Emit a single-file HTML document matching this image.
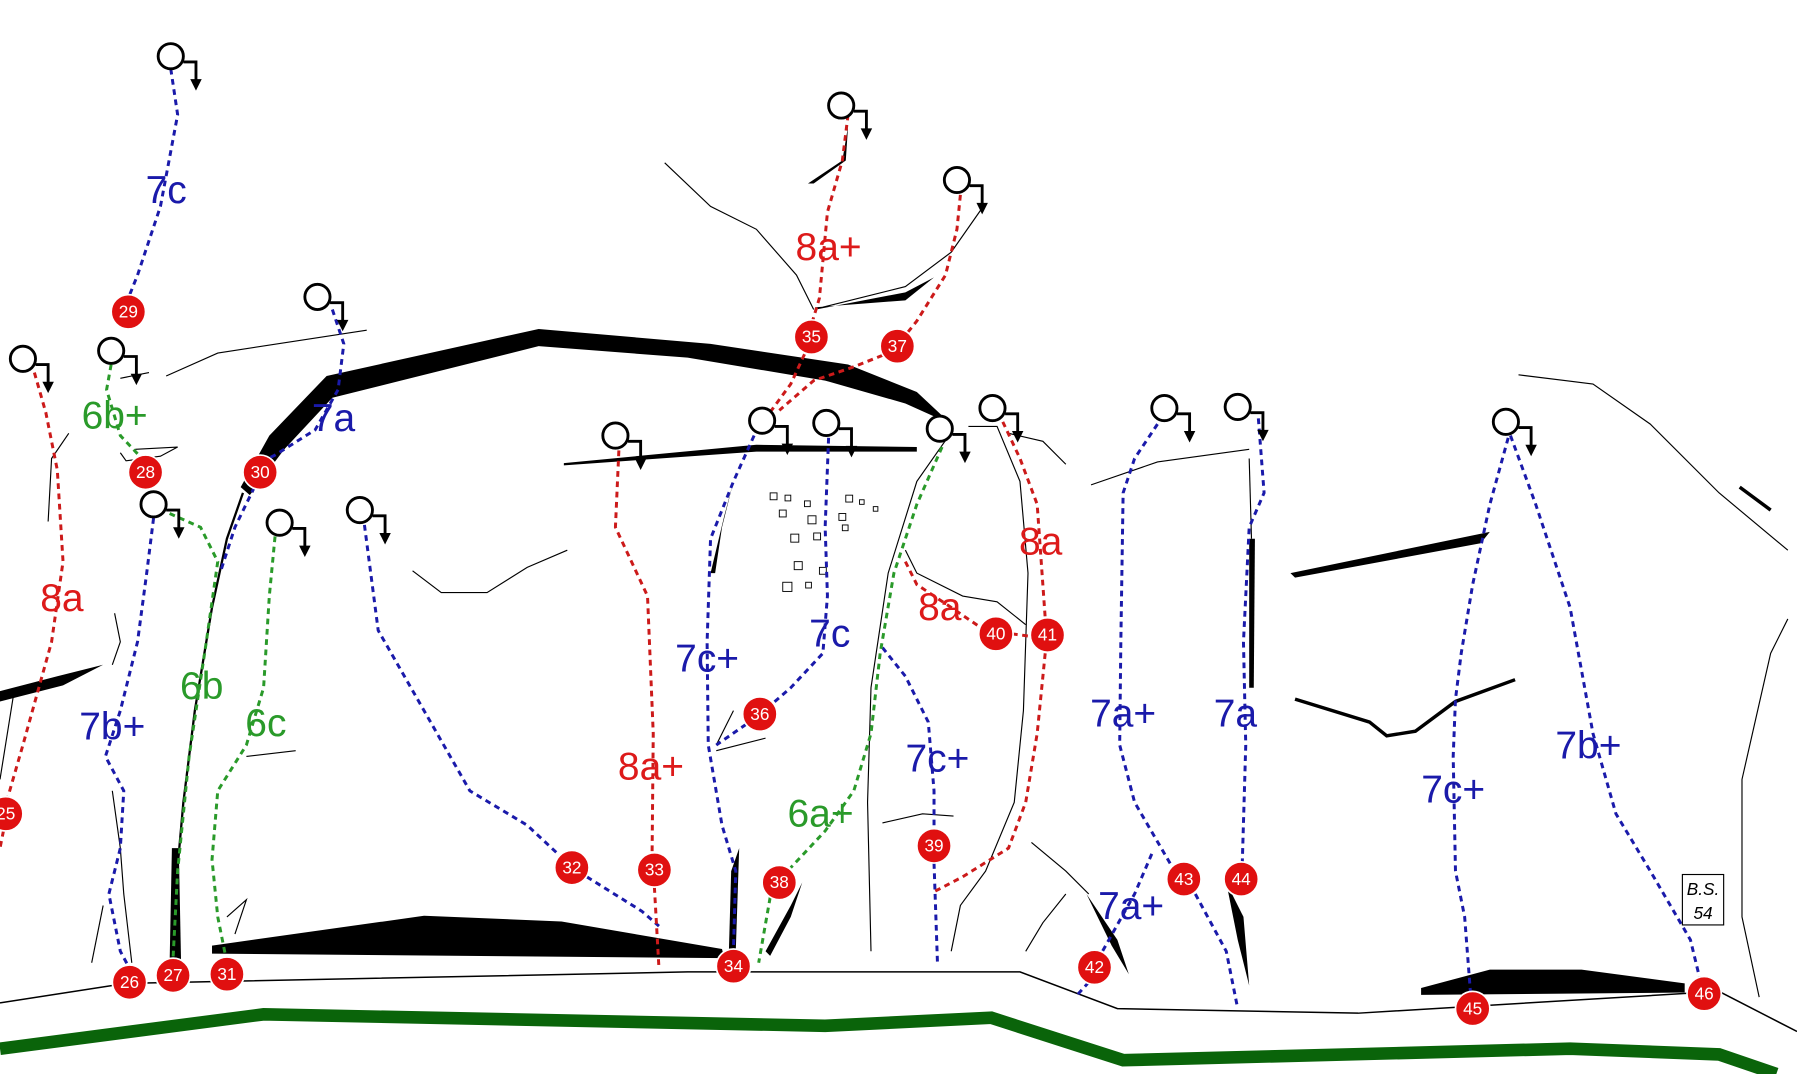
<!DOCTYPE html>
<html><head><meta charset="utf-8"><style>
html,body{margin:0;padding:0;background:#fff;}
svg{display:block;}
text{font-family:"Liberation Sans",sans-serif;}
</style></head><body>
<svg width="1797" height="1074" viewBox="0 0 1568 937" xmlns="http://www.w3.org/2000/svg">
<defs>
<g id="anc"><circle cx="0" cy="0" r="11" fill="#fff" stroke="#000" stroke-width="2.5"/><polyline points="11,5 22,5 22,22" fill="none" stroke="#000" stroke-width="2.5"/><polygon points="17,20 27,20 22,30" fill="#000"/></g>
</defs>
<rect width="1568" height="937" fill="#fff"/>
<!-- ground -->
<polyline points="0,875 110,858 600,848 890,848 975,880 1185,884 1500,865 1568,900" fill="none" stroke="#000" stroke-width="1.3"/>
<polyline points="0,915 230,885 720,895 865,888 980,925 1370,915 1500,920 1550,937" fill="none" stroke="#0a640a" stroke-width="11"/>
<!-- black shapes -->
<polygon points="210,425 235,380 285,328 470,287 620,300 740,318 800,342 830,370 790,352 720,332 600,312 470,302 290,347 248,392 218,432" fill="#000"/>
<polyline points="212,430 198,470 185,530 170,620 160,700 152,790 150,840" fill="none" stroke="#000" stroke-width="2"/>
<polygon points="150,740 156,740 158,840 148,840" fill="#000"/>
<polygon points="185,825 370,799 490,804 630,828 632,836 185,832" fill="#000"/>
<polygon points="0,603 50,590 90,580 55,598 0,612" fill="#000"/>
<polygon points="1126,500 1300,464 1292,474 1130,504" fill="#000"/>
<polygon points="1240,862 1300,846 1380,846 1470,858 1470,866 1240,868" fill="#000"/>
<polygon points="492,404 660,388 800,390 800,394 660,394 492,406" fill="#000"/>
<polygon points="712,270 790,255 815,242 790,262 712,268" fill="#000"/>
<polygon points="705,160 735,140 740,110 738,140 710,160" fill="#000"/>
<polygon points="638,760 645,740 642,830 636,830" fill="#000"/>
<polygon points="668,830 690,790 700,770 690,800 672,834" fill="#000"/>
<polygon points="620,500 632,450 640,420 630,460 624,500" fill="#000"/>
<polygon points="1090,470 1095,470 1094,600 1090,600" fill="#000"/>
<polygon points="1070,770 1085,800 1090,860 1080,820" fill="#000"/>
<polygon points="948,780 975,820 985,850 970,825" fill="#000"/>
<polyline points="1130,610 1195,630 1210,642 1235,638 1270,612 1322,593" fill="none" stroke="#000" stroke-width="3"/>
<line x1="1518" y1="425" x2="1545" y2="445" stroke="#000" stroke-width="3"/>
<!-- thin lines -->
<g fill="none" stroke="#000" stroke-width="1">
<polyline points="580,142 620,180 660,200 695,240 710,270"/>
<polyline points="718,268 790,250 830,220 858,180"/>
<polyline points="145,328 190,308 320,288"/>
<polyline points="105,330 130,325"/>
<polyline points="60,378 45,400 42,455"/>
<polyline points="100,535 105,560 98,580"/>
<polyline points="12,605 0,680"/>
<polyline points="105,395 110,402 140,398 155,390 118,392"/>
<polyline points="360,498 385,517 425,517 460,495 495,480"/>
<polyline points="98,690 105,740 108,780 115,840"/>
<polyline points="90,790 80,840"/>
<polyline points="215,660 258,655"/>
<polyline points="198,800 215,785 205,815"/>
<polyline points="625,655 668,644"/>
<polyline points="770,718 805,710 832,712"/>
<polyline points="828,380 800,420 775,500 760,600 757,700 760,830"/>
<polyline points="845,372 870,372 890,420 897,500 893,620 885,700 860,760 838,790 830,830"/>
<polyline points="880,378 910,385 930,405"/>
<polyline points="790,480 800,500 840,520 870,525 895,545"/>
<polyline points="900,735 930,760 950,780"/>
<polyline points="930,780 910,805 895,830"/>
<polyline points="952,423 1010,403 1090,392"/>
<polyline points="1325,327 1390,335 1440,370 1500,430 1560,480"/>
<polyline points="1560,540 1545,570 1520,680 1520,800 1535,870"/>
<polyline points="1090,400 1092,470"/>
<polyline points="625,650 640,620"/>
</g>
<!-- rocks -->
<g fill="none" stroke="#000" stroke-width="0.8">
<rect x="672" y="430" width="6" height="6"/><rect x="685" y="432" width="5" height="5"/><rect x="702" y="437" width="5" height="5"/><rect x="738" y="432" width="6" height="6"/><rect x="750" y="436" width="4" height="4"/><rect x="680" y="445" width="6" height="6"/><rect x="705" y="450" width="7" height="7"/><rect x="732" y="448" width="6" height="6"/><rect x="762" y="442" width="4" height="4"/><rect x="690" y="466" width="7" height="7"/><rect x="710" y="465" width="6" height="6"/><rect x="735" y="458" width="5" height="5"/><rect x="693" y="490" width="7" height="7"/><rect x="715" y="495" width="6" height="6"/><rect x="683" y="508" width="8" height="8"/><rect x="703" y="508" width="5" height="5"/>
</g>
<!-- routes -->
<g fill="none" stroke-width="2.6" stroke-dasharray="5,4">
<g stroke="#1a1aaa">
<polyline points="149,60 155,100 140,180 120,240 112,260"/>
<polyline points="290,270 300,300 295,340 275,375 240,397 230,402"/>
<polyline points="222,425 205,460 192,500"/>
<polyline points="134,452 128,500 120,560 105,620 92,660 108,690 105,740 95,780 105,830 112,843"/>
<polyline points="318,458 330,550 370,620 410,690 460,720 490,748"/>
<polyline points="512,765 560,795 575,808"/>
<polyline points="658,380 640,420 620,470 617,560 618,650 630,720 642,760 640,828"/>
<polyline points="723,382 720,460 722,520 718,570 690,600 675,613"/>
<polyline points="651,632 625,650"/>
<polyline points="770,565 790,590 810,630 815,690 815,723"/>
<polyline points="815,753 818,840"/>
<polyline points="1010,370 990,400 980,430 978,560 977,650 990,700 1022,755"/>
<polyline points="1043,780 1070,830 1080,880"/>
<polyline points="1005,745 990,780 962,830"/>
<polyline points="950,857 940,868"/>
<polyline points="1098,365 1103,430 1090,460 1085,560 1087,650 1084,752"/>
<polyline points="1316,382 1300,440 1285,510 1275,570 1270,610 1268,660 1270,760 1278,800 1283,865"/>
<polyline points="1318,380 1340,440 1370,530 1390,640 1410,710 1440,760 1475,820 1483,853"/>
</g>
<g stroke="#cc1a1a">
<polyline points="30,325 40,360 50,410 55,490 45,560 20,650 7,695"/>
<polyline points="3,725 0,740"/>
<polyline points="540,393 537,460 565,520 570,640 569,744"/>
<polyline points="571,774 575,845"/>
<polyline points="740,100 735,140 722,185 715,260 709,280"/>
<polyline points="702,309 690,335 668,365"/>
<polyline points="838,170 835,200 825,240 800,280 792,290"/>
<polyline points="770,310 745,320 710,332 680,358"/>
<polyline points="790,490 800,510 830,530 855,547"/>
<polyline points="875,368 890,400 905,440 912,539"/>
<polyline points="912,570 905,640 895,700 880,740 840,765 815,778"/>
<polyline points="883,553 898,555"/>
</g>
<g stroke="#2a9a2a">
<polyline points="97,318 93,340 105,380 122,398"/>
<polyline points="148,448 175,460 190,490 180,560 165,660 155,760 151,836"/>
<polyline points="240,468 235,520 230,600 215,650 190,690 185,750 190,800 197,835"/>
<polyline points="822,390 800,440 780,500 768,570 760,640 745,690 720,725 690,757"/>
<polyline points="672,783 662,840"/>
</g>
</g>
<!-- anchors -->
<use href="#anc" x="149" y="49"/><use href="#anc" x="734" y="92"/><use href="#anc" x="835" y="157"/><use href="#anc" x="277" y="259"/><use href="#anc" x="97" y="306"/><use href="#anc" x="20" y="313"/><use href="#anc" x="537" y="380"/><use href="#anc" x="665" y="367"/><use href="#anc" x="721" y="369"/><use href="#anc" x="820" y="374"/><use href="#anc" x="866" y="356"/><use href="#anc" x="1016" y="356"/><use href="#anc" x="1080" y="355"/><use href="#anc" x="1314" y="368"/><use href="#anc" x="134" y="440"/><use href="#anc" x="244" y="456"/><use href="#anc" x="314" y="445"/>
<!-- grades -->
<g font-size="34" text-anchor="middle">
<g fill="#1a1aaa">
<text x="145" y="177">7c</text><text x="291" y="376">7a</text><text x="98" y="645">7b+</text><text x="617" y="586">7c+</text><text x="724" y="564">7c</text><text x="818" y="673">7c+</text><text x="980" y="634">7a+</text><text x="1078" y="634">7a</text><text x="987" y="802">7a+</text><text x="1268" y="700">7c+</text><text x="1386" y="662">7b+</text>
</g>
<g fill="#dd1a1a">
<text x="54" y="533">8a</text><text x="723" y="227">8a+</text><text x="568" y="680">8a+</text><text x="820" y="541">8a</text><text x="908" y="484">8a</text>
</g>
<g fill="#2a9a2a">
<text x="100" y="374">6b+</text><text x="176" y="610">6b</text><text x="232" y="642">6c</text><text x="716" y="721">6a+</text>
</g>
</g>
<!-- numbered circles -->
<g font-size="15" fill="#fff" text-anchor="middle">
<g fill="#e01010" stroke="#fff" stroke-width="1.5">
<circle cx="112" cy="272" r="15"/><circle cx="127" cy="412" r="15"/><circle cx="227" cy="412" r="15"/><circle cx="708" cy="294" r="15"/><circle cx="783" cy="302" r="15"/><circle cx="5" cy="710" r="15"/><circle cx="113" cy="857" r="15"/><circle cx="151" cy="851" r="15"/><circle cx="198" cy="850" r="15"/><circle cx="499" cy="757" r="15"/><circle cx="571" cy="759" r="15"/><circle cx="640" cy="843" r="15"/><circle cx="663" cy="623" r="15"/><circle cx="680" cy="770" r="15"/><circle cx="815" cy="738" r="15"/><circle cx="869" cy="553" r="15"/><circle cx="914" cy="554" r="15"/><circle cx="955" cy="844" r="15"/><circle cx="1033" cy="767" r="15"/><circle cx="1083" cy="767" r="15"/><circle cx="1285" cy="880" r="15"/><circle cx="1487" cy="867" r="15"/>
</g>
<text x="112" y="277">29</text><text x="127" y="417">28</text><text x="227" y="417">30</text><text x="708" y="299">35</text><text x="783" y="307">37</text><text x="5" y="715">25</text><text x="113" y="862">26</text><text x="151" y="856">27</text><text x="198" y="855">31</text><text x="499" y="762">32</text><text x="571" y="764">33</text><text x="640" y="848">34</text><text x="663" y="628">36</text><text x="680" y="775">38</text><text x="815" y="743">39</text><text x="869" y="558">40</text><text x="914" y="559">41</text><text x="955" y="849">42</text><text x="1033" y="772">43</text><text x="1083" y="772">44</text><text x="1285" y="885">45</text><text x="1487" y="872">46</text>
</g>
<rect x="1468" y="763" width="36" height="44" fill="#fff" stroke="#000" stroke-width="1"/>
<text x="1486" y="781" font-size="15" font-style="italic" text-anchor="middle">B.S.</text>
<text x="1486" y="802" font-size="15" font-style="italic" text-anchor="middle">54</text>
</svg>
</body></html>
